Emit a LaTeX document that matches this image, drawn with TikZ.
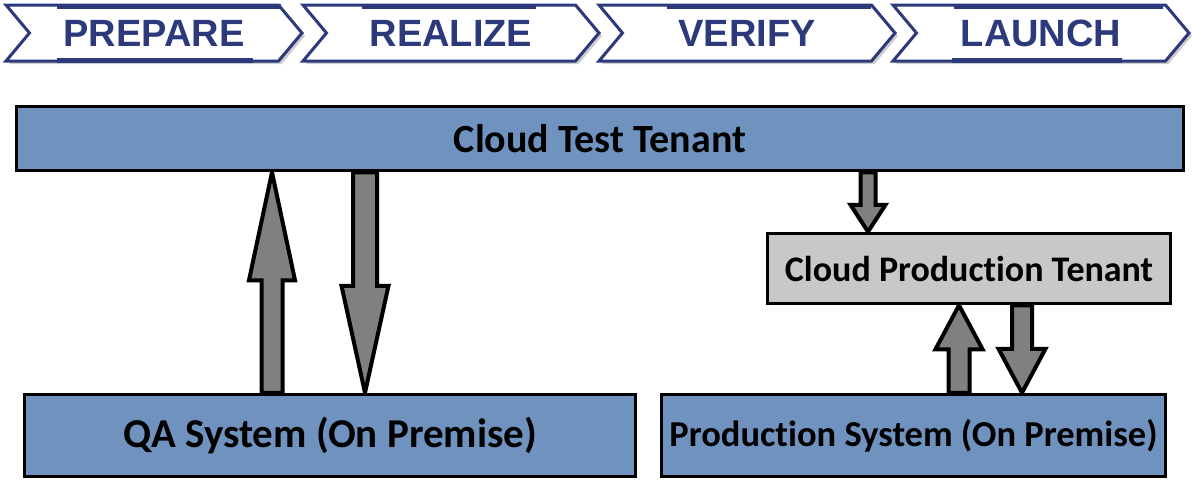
\documentclass[tikz,border=0pt]{standalone}
\usepackage{fontspec}
\setmainfont[Ligatures=NoCommon]{Carlito}
\newfontfamily\phasefont{Liberation Sans}
\usetikzlibrary{calc,shapes.symbols,shadows,backgrounds}

\definecolor{phaseblue}{RGB}{44,58,124}
\definecolor{boxblue}{RGB}{111,146,191}
\definecolor{tenantgray}{RGB}{200,200,200}
\definecolor{arrowgray}{RGB}{128,128,128}

\tikzstyle{phase}=[signal, signal to=east, signal from=west, signal pointer angle=100,
  draw=phaseblue, line width=3pt, fill=white, minimum width=296pt, minimum height=56pt,
  text=phaseblue, font=\phasefont\bfseries\fontsize{38}{38}\selectfont,
  drop shadow={opacity=0.4, shadow xshift=3pt, shadow yshift=-3pt}]
\tikzstyle{progress}=[draw=phaseblue, line width=5pt]
\tikzstyle{system}=[rectangle, draw=black, line width=3.5pt, fill=boxblue, inner sep=0pt,
  font=\bfseries\fontsize{40}{42}\selectfont]
\tikzstyle{tenant}=[system, fill=tenantgray]
\tikzstyle{blockarrow}=[draw=black, fill=arrowgray, line width=4pt, line join=miter]

% vertical block arrow: from, to, shaft half width, head half width, head length
\newcommand{\blockarrow}[5]{%
  \path[blockarrow] let \p1=(#1), \p2=(#2), \n1={ifthenelse(\y2>\y1,1,-1)} in
    (\x1-#3,\y1) -- (\x1-#3,\y2-\n1*#5) -- (\x1-#4,\y2-\n1*#5) -- (\x2,\y2)
    -- (\x1+#4,\y2-\n1*#5) -- (\x1+#3,\y2-\n1*#5) -- (\x1+#3,\y1) -- cycle;
}

\begin{document}
\begin{tikzpicture}[x=1pt, y=-1pt]
\useasboundingbox (0,0) rectangle (1192,480);

% project phases
\node[phase] at (154, 33) (prepare) {PREPARE};
\node[phase] at (451, 33) (realize) {REALIZE};
\node[phase] at (747, 33) (verify) {VERIFY};
\node[phase] at (1041, 33) (launch) {LAUNCH};
\draw[progress] (57, 6) -- (281, 6);
\draw[progress] (57, 60) -- (253, 60);
\draw[progress] (362, 6) -- (536, 6);
\draw[progress] (667, 6) -- (871, 6);
\draw[progress] (954, 6) -- (1163, 6);
\draw[progress] (952, 60) -- (1122, 60);

% landscape
\node[system, minimum width=1167pt, minimum height=64pt] at (600, 138.5) (ctt) {Cloud Test Tenant};
\node[tenant, minimum width=403pt, minimum height=70pt, font=\bfseries\fontsize{36}{38}\selectfont] at (969, 268.5) (cpt) {Cloud Production Tenant};
\node[system, minimum width=611pt, minimum height=82pt, font=\bfseries\fontsize{41}{42}\selectfont] at (330, 435.5) (qa) {QA System (On Premise)};
\node[system, minimum width=504pt, minimum height=82pt, font=\bfseries\fontsize{36.5}{40}\selectfont] at (913.5, 435.5) (prod) {Production System (On Premise)};

\coordinate (qaup) at (272,0 |- qa.north);
\coordinate (cttup) at (272,0 |- ctt.south);
\coordinate (cttdown) at (365,0 |- ctt.south);
\coordinate (qadown) at (365,0 |- qa.north);
\coordinate (cttprod) at (868,0 |- ctt.south);
\coordinate (cptin) at (868,0 |- cpt.north);
\coordinate (produp) at (959,0 |- prod.north);
\coordinate (cptup) at (959,0 |- cpt.south);
\coordinate (cptdown) at (1022,0 |- cpt.south);
\coordinate (proddown) at (1022,0 |- prod.north);

\begin{scope}[on background layer]
\blockarrow{qaup}{cttup}{10.5pt}{23pt}{108pt}
\blockarrow{cttdown}{qadown}{12pt}{23.5pt}{107pt}
\blockarrow{cttprod}{cptin}{7.5pt}{17.5pt}{27pt}
\blockarrow{produp}{cptup}{10.5pt}{23.5pt}{44pt}
\blockarrow{cptdown}{proddown}{10pt}{23.5pt}{44pt}
\end{scope}

\end{tikzpicture}
\end{document}
